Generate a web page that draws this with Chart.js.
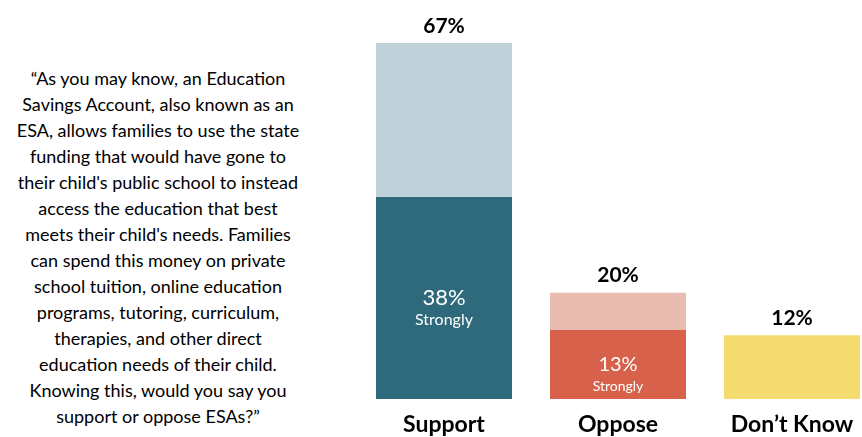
<!DOCTYPE html>
<html>
<head>
<meta charset="utf-8">
<script src="https://cdn.jsdelivr.net/npm/chart.js@4/dist/chart.umd.min.js"></script>
<style>
    html, body { margin: 0; padding: 0; background: #fff; overflow: hidden; }
    body { width: 862px; height: 437px; position: relative; }
    #question {
        position: absolute; left: 0; top: 65px; width: 316px;
        font-family: Lato, 'Open Sans', sans-serif; font-size: 18px; line-height: 26px;
        text-align: center; color: #000;
    }
    #chartBox { position: absolute; left: 357px; top: 0; width: 522px; height: 437px; }
</style>
</head>
<body>
<div id="question">
“As you may know, an Education<br>
Savings Account, also known as an<br>
ESA, allows families to use the state<br>
funding that would have gone to<br>
their child's public school to instead<br>
access the education that best<br>
meets their child's needs. Families<br>
can spend this money on private<br>
school tuition, online education<br>
programs, tutoring, curriculum,<br>
therapies, and other direct<br>
education needs of their child.<br>
Knowing this, would you say you<br>
support or oppose ESAs?”
</div>
<div id="chartBox"><canvas id="esaChart" width="522" height="437"></canvas></div>
<script>
// Veriler (okunan değerler)
const categories = ['Support', 'Oppose', 'Don\u2019t Know'];
const stronglyValues = [38, 13, 12];   // alt parça (Don't Know tek parça)
const somewhatValues = [29, 7, 0];     // üst parça
const totalLabels = ['67%', '20%', '12%'];
const innerLabels = ['38%', '13%', null];

const baseColors = ['#2e6a7b', '#d7614a', '#f4dc70'];
const topColors = ['#bfd2da', '#e9bcb1', 'rgba(0,0,0,0)'];

const FONT = "Lato, 'Open Sans', sans-serif";

const totals = stronglyValues.map((v, i) => v + somewhatValues[i]);

// Bar üstü ve içi etiketleri
const labelPlugin = {
    id: 'barLabels',
    afterDraw(chart) {
        const ctx = chart.ctx;
        const x = chart.scales.x;
        const y = chart.scales.y;
        ctx.save();
        ctx.textAlign = 'center';
        ctx.textBaseline = 'middle';
        categories.forEach((c, i) => {
            const cx = x.getPixelForValue(i);
            // toplam yüzde
            ctx.fillStyle = '#000';
            ctx.font = 'bold 21px ' + FONT;
            ctx.fillText(totalLabels[i], cx, y.getPixelForValue(totals[i]) - 17);
            // "Strongly" etiketi
            if (innerLabels[i]) {
                const top = y.getPixelForValue(stronglyValues[i]);
                const bottom = y.getPixelForValue(0);
                const mid = (top + bottom) / 2;
                const big = i === 0 ? 22 : 20;
                const small = i === 0 ? 16 : 14;
                ctx.fillStyle = '#fff';
                ctx.font = big + 'px ' + FONT;
                ctx.fillText(innerLabels[i], cx, mid);
                ctx.font = small + 'px ' + FONT;
                ctx.fillText('Strongly', cx, mid + 22);
            }
        });
        ctx.restore();
    }
};

new Chart(document.getElementById('esaChart').getContext('2d'), {
    type: 'bar',
    data: {
        labels: categories,
        datasets: [
            {
                label: 'Strongly',
                data: stronglyValues,
                backgroundColor: baseColors,
                borderWidth: 0
            },
            {
                label: 'Somewhat',
                data: somewhatValues,
                backgroundColor: topColors,
                borderWidth: 0
            }
        ]
    },
    options: {
        responsive: false,
        animation: false,
        layout: { padding: { top: 43, bottom: 0, left: 0, right: 0 } },
        datasets: { bar: { barPercentage: 136 / 174, categoryPercentage: 1 } },
        plugins: { legend: { display: false }, tooltip: { enabled: false } },
        scales: {
            x: {
                stacked: true,
                grid: { display: false, drawTicks: false },
                border: { display: false },
                ticks: {
                    color: '#000',
                    padding: 14,
                    font: { family: FONT, size: 23, weight: 'bold', lineHeight: 1 }
                },
                afterFit(axis) { axis.height = 38; }
            },
            y: {
                stacked: true,
                display: false,
                min: 0,
                max: Math.max(...totals)
            }
        }
    },
    plugins: [labelPlugin]
});
</script>
</body>
</html>
